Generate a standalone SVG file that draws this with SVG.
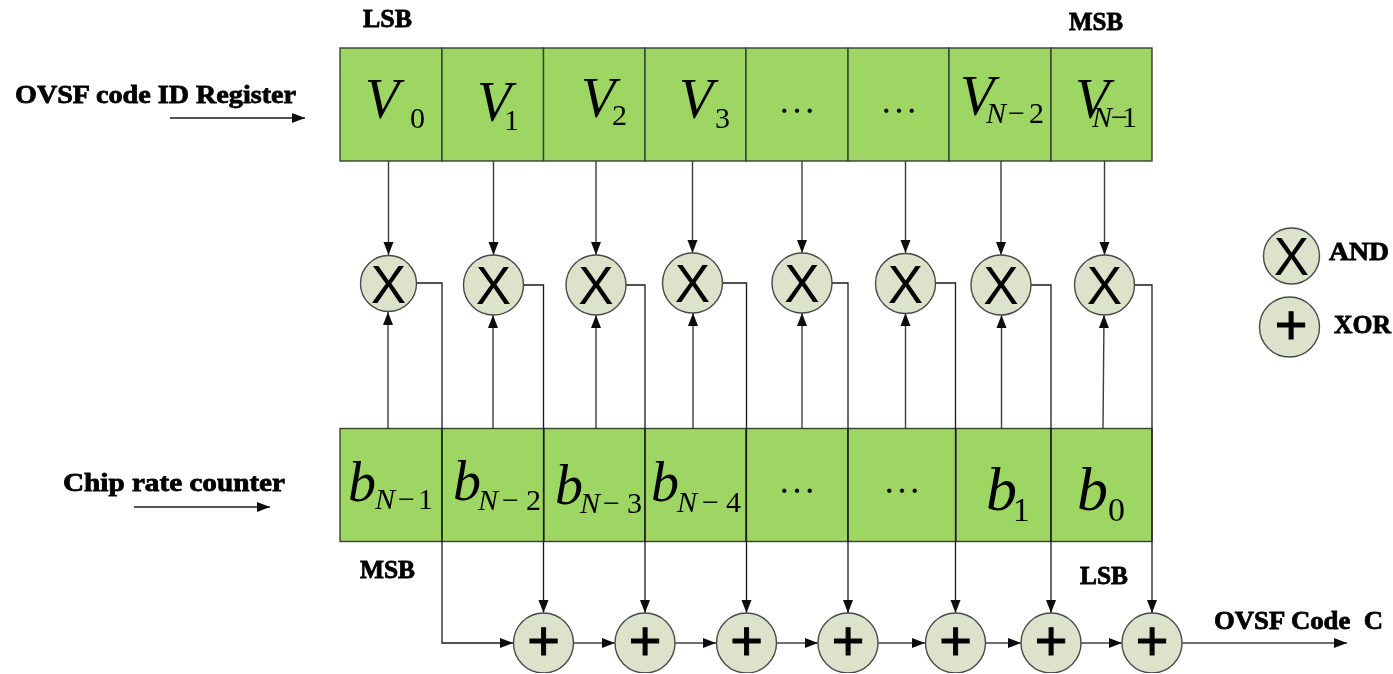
<svg xmlns="http://www.w3.org/2000/svg" width="1393" height="674" viewBox="0 0 1393 674">
<style>
.cell{fill:#9dd663;stroke:#3a3f34;stroke-width:1.4}
.op{fill:#dde2cb;stroke:#4a4a4a;stroke-width:1.4}
.c{fill:none;stroke:#3c3c3c;stroke-width:1.4}
.c2{fill:none;stroke:#1c1c1c;stroke-width:1.3}
.lab{font-family:"Liberation Serif",serif;font-weight:bold;font-size:26px;fill:#000;stroke:#000;stroke-width:.8}
.m{font-family:"Liberation Serif",serif;font-style:italic;fill:#000;font-size:56px}
.big{font-size:62px}
.s{font-style:normal;font-size:30px}
.si{font-style:italic;font-size:30px}
.dots{font-family:"Liberation Serif",serif;fill:#111;font-size:38px}
.x{font-family:"Liberation Sans",sans-serif;font-size:53px;fill:#000;text-anchor:middle}
.p{font-family:"Liberation Sans",sans-serif;font-size:56px;fill:#000;stroke:#000;stroke-width:1;text-anchor:middle}
</style>
<defs>
<marker id="a" markerUnits="userSpaceOnUse" markerWidth="14" markerHeight="11" refX="13" refY="5.500" orient="auto"><path d="M0 0.500L13 5.500L0 10.500z" fill="#111"/></marker>
<filter id="soft" x="0" y="0" width="100%" height="100%"><feGaussianBlur stdDeviation="0.4"/></filter>
</defs>
<g filter="url(#soft)">
<g id="register-top">
<rect class="cell" x="340" y="48" width="102" height="113"/>
<rect class="cell" x="442" y="48" width="101.500" height="113"/>
<rect class="cell" x="543.500" y="48" width="101.500" height="113"/>
<rect class="cell" x="645" y="48" width="101" height="113"/>
<rect class="cell" x="746" y="48" width="102" height="113"/>
<rect class="cell" x="848" y="48" width="101" height="113"/>
<rect class="cell" x="949" y="48" width="102" height="113"/>
<rect class="cell" x="1051" y="48" width="101" height="113"/>
<text class="m" x="365" y="118">V<tspan class="s" x="410" y="128">0</tspan></text>
<text class="m" x="477" y="121">V<tspan class="s" x="504" y="130">1</tspan></text>
<text class="m" x="581" y="117">V<tspan class="s" x="612" y="125">2</tspan></text>
<text class="m" x="679" y="118">V<tspan class="s" x="715" y="128">3</tspan></text>
<text class="dots" x="778" y="113">…</text>
<text class="dots" x="880" y="113">…</text>
<text class="m" x="960" y="115">V<tspan class="si" x="986" y="123">N</tspan><tspan class="s" x="1008" y="123">−</tspan><tspan class="s" x="1029" y="123">2</tspan></text>
<text class="m" x="1075" y="118">V<tspan class="si" x="1092" y="127">N</tspan><tspan class="s" x="1111" y="127">−</tspan><tspan class="s" x="1122" y="127">1</tspan></text>
</g>
<g id="register-bottom">
<rect class="cell" x="340" y="428.500" width="102" height="113"/>
<rect class="cell" x="442" y="428.500" width="102" height="113"/>
<rect class="cell" x="544" y="428.500" width="101" height="113"/>
<rect class="cell" x="645" y="428.500" width="101" height="113"/>
<rect class="cell" x="746" y="428.500" width="102" height="113"/>
<rect class="cell" x="848" y="428.500" width="108" height="113"/>
<rect class="cell" x="956" y="428.500" width="95" height="113"/>
<rect class="cell" x="1051" y="428.500" width="101" height="113"/>
<text class="m" x="348" y="501">b<tspan class="si" x="375" y="509">N</tspan><tspan class="s" x="398" y="509">−</tspan><tspan class="s" x="418" y="509">1</tspan></text>
<text class="m" x="453" y="500">b<tspan class="si" x="478" y="510">N</tspan><tspan class="s" x="502" y="510">−</tspan><tspan class="s" x="526" y="510">2</tspan></text>
<text class="m" x="555" y="504">b<tspan class="si" x="580" y="513">N</tspan><tspan class="s" x="603" y="513">−</tspan><tspan class="s" x="627" y="513">3</tspan></text>
<text class="m" x="651" y="501">b<tspan class="si" x="677" y="512">N</tspan><tspan class="s" x="702" y="512">−</tspan><tspan class="s" x="726" y="512">4</tspan></text>
<text class="dots" x="778" y="493">…</text>
<text class="dots" x="883" y="493">…</text>
<text class="m big" x="986" y="510">b<tspan class="s" x="1013" y="521" style="font-size:33px">1</tspan></text>
<text class="m big" x="1077" y="510">b<tspan class="s" x="1108" y="521" style="font-size:34px">0</tspan></text>
</g>
<g id="connectors">
<path class="c2" d="M170 118H305" marker-end="url(#a)"/>
<path class="c2" d="M134 507H270" marker-end="url(#a)"/>
<path class="c" d="M388.500 161V255" marker-end="url(#a)"/>
<path class="c" d="M493.500 161V255" marker-end="url(#a)"/>
<path class="c" d="M596 161V255" marker-end="url(#a)"/>
<path class="c" d="M692.500 161V253" marker-end="url(#a)"/>
<path class="c" d="M802 161V253" marker-end="url(#a)"/>
<path class="c" d="M905.500 161V253" marker-end="url(#a)"/>
<path class="c" d="M1001 161V255" marker-end="url(#a)"/>
<path class="c" d="M1104.500 161V255" marker-end="url(#a)"/>
<path class="c" d="M388 428.500V312" marker-end="url(#a)"/>
<path class="c" d="M493 428.500V315" marker-end="url(#a)"/>
<path class="c" d="M596 428.500V315" marker-end="url(#a)"/>
<path class="c" d="M693 428.500V313" marker-end="url(#a)"/>
<path class="c" d="M802 428.500V313" marker-end="url(#a)"/>
<path class="c" d="M905.500 428.500V313" marker-end="url(#a)"/>
<path class="c" d="M1001.500 428.500V315" marker-end="url(#a)"/>
<path class="c" d="M1103 428.500L1104 315" marker-end="url(#a)"/>
<path class="c2" d="M416.500 283H442V643H513" marker-end="url(#a)"/>
<path class="c2" d="M523 285H543.500V613" marker-end="url(#a)"/>
<path class="c2" d="M626 285H645V613" marker-end="url(#a)"/>
<path class="c2" d="M722 283H746.500V613" marker-end="url(#a)"/>
<path class="c2" d="M832 283H848V613" marker-end="url(#a)"/>
<path class="c2" d="M935 283H955.500V613" marker-end="url(#a)"/>
<path class="c2" d="M1031 285H1051V613" marker-end="url(#a)"/>
<path class="c2" d="M1134 285H1152V613" marker-end="url(#a)"/>
<path class="c" d="M573.500 643H615" marker-end="url(#a)"/>
<path class="c" d="M675 643H716" marker-end="url(#a)"/>
<path class="c" d="M776 643H818" marker-end="url(#a)"/>
<path class="c" d="M878 643H925" marker-end="url(#a)"/>
<path class="c" d="M985.500 643H1021" marker-end="url(#a)"/>
<path class="c" d="M1081 643H1122" marker-end="url(#a)"/>
<path class="c" d="M1182 643H1347" marker-end="url(#a)"/>
</g>
<g id="and-1"><ellipse class="op" cx="388.500" cy="283.500" rx="28" ry="28"/><text class="x" x="388.500" y="302.500">X</text></g>
<g id="and-2"><ellipse class="op" cx="493.500" cy="285" rx="30" ry="30"/><text class="x" x="493.500" y="304">X</text></g>
<g id="and-3"><ellipse class="op" cx="596" cy="285" rx="30" ry="30"/><text class="x" x="596" y="304">X</text></g>
<g id="and-4"><ellipse class="op" cx="692.500" cy="283" rx="30" ry="30"/><text class="x" x="692.500" y="302">X</text></g>
<g id="and-5"><ellipse class="op" cx="802" cy="283" rx="30" ry="30"/><text class="x" x="802" y="302">X</text></g>
<g id="and-6"><ellipse class="op" cx="905.500" cy="283.500" rx="30" ry="30"/><text class="x" x="905.500" y="302.500">X</text></g>
<g id="and-7"><ellipse class="op" cx="1001" cy="285" rx="30" ry="30"/><text class="x" x="1001" y="304">X</text></g>
<g id="and-8"><ellipse class="op" cx="1104.500" cy="285" rx="30" ry="30"/><text class="x" x="1104.500" y="304">X</text></g>
<g id="xor-1"><ellipse class="op" cx="543.500" cy="643" rx="30" ry="30"/><text class="p" x="543.500" y="660">+</text></g>
<g id="xor-2"><ellipse class="op" cx="645" cy="643" rx="30" ry="30"/><text class="p" x="645" y="660">+</text></g>
<g id="xor-3"><ellipse class="op" cx="746.500" cy="643" rx="30" ry="30"/><text class="p" x="746.500" y="660">+</text></g>
<g id="xor-4"><ellipse class="op" cx="848" cy="643" rx="30" ry="30"/><text class="p" x="848" y="660">+</text></g>
<g id="xor-5"><ellipse class="op" cx="955.500" cy="643" rx="30" ry="30"/><text class="p" x="955.500" y="660">+</text></g>
<g id="xor-6"><ellipse class="op" cx="1051" cy="643" rx="30" ry="30"/><text class="p" x="1051" y="660">+</text></g>
<g id="xor-7"><ellipse class="op" cx="1152" cy="643" rx="30" ry="30"/><text class="p" x="1152" y="660">+</text></g>
<g id="legend-and"><ellipse class="op" cx="1291.500" cy="256" rx="28" ry="28"/><text class="x" x="1291.500" y="275">X</text><text class="lab" x="1329" y="260" textLength="60" lengthAdjust="spacingAndGlyphs">AND</text></g>
<g id="legend-xor"><ellipse class="op" cx="1289.500" cy="327" rx="30" ry="30"/><text class="p" x="1291" y="344">+</text><text class="lab" x="1334" y="333" textLength="57" lengthAdjust="spacingAndGlyphs">XOR</text></g>
<g id="labels">
<text class="lab" x="15" y="103" textLength="281" lengthAdjust="spacingAndGlyphs">OVSF code ID Register</text>
<text class="lab" x="63" y="491" textLength="222" lengthAdjust="spacingAndGlyphs">Chip rate counter</text>
<text class="lab" x="363" y="27" textLength="49" lengthAdjust="spacingAndGlyphs">LSB</text>
<text class="lab" x="1069" y="30" textLength="54" lengthAdjust="spacingAndGlyphs">MSB</text>
<text class="lab" x="360" y="578" textLength="55" lengthAdjust="spacingAndGlyphs">MSB</text>
<text class="lab" x="1080" y="584" textLength="48" lengthAdjust="spacingAndGlyphs">LSB</text>
<text class="lab" x="1214" y="629" textLength="169" lengthAdjust="spacingAndGlyphs" xml:space="preserve">OVSF Code  C</text>
</g>
</g>
</svg>
